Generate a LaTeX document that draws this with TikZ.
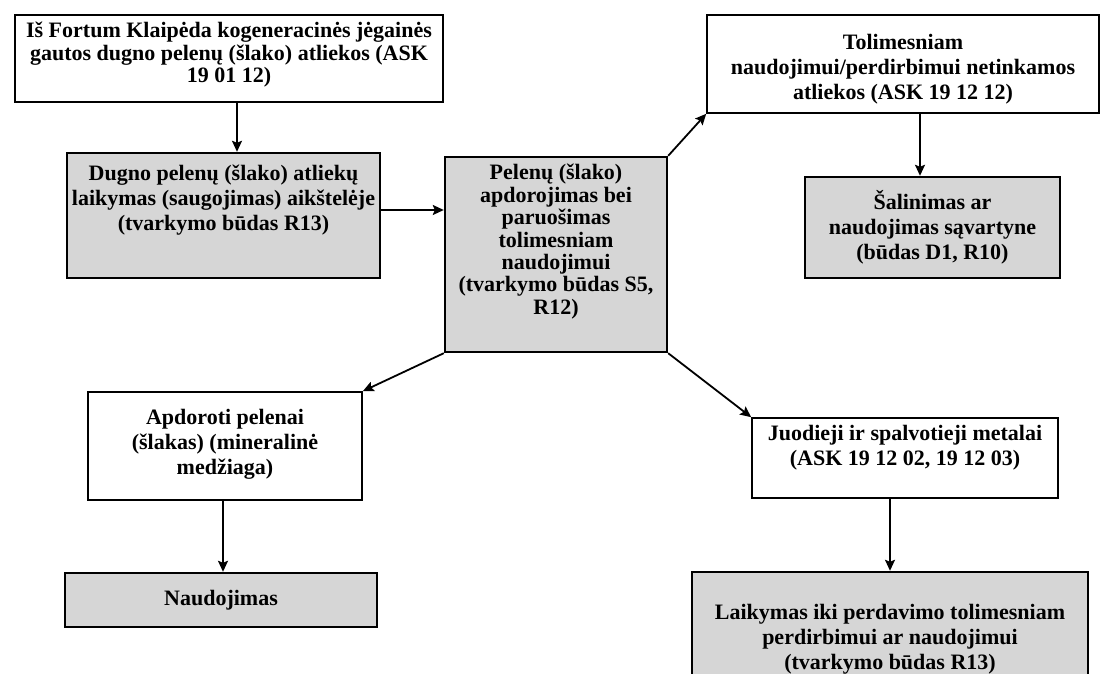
\documentclass[tikz,border=0pt]{standalone}
\usepackage{fontspec}
\setmainfont{Liberation Serif}
\usetikzlibrary{arrows.meta}
\begin{document}
\begin{tikzpicture}[x=1pt,y=-1pt,
  box/.style={draw=black, rectangle, inner sep=0pt, line width=1.6pt},
  shaded/.style={box, fill=black!16, line width=2.4pt},
  txt/.style={anchor=north, align=center, inner sep=0pt, font=\bfseries\fontsize{22}{25}\selectfont},
  tight/.style={font=\bfseries\fontsize{22}{22.4}\selectfont},
  arr/.style={line width=1.8pt, -{Stealth[length=11pt,width=10pt,inset=2pt]}}]
\useasboundingbox (0,0) rectangle (1101,674);
\fill[white] (0,0) rectangle (1101,674);

% boxes
\node[box,    minimum width=428pt, minimum height=87pt]  (b1) at (229,58.5) {};
\node[shaded, minimum width=313pt, minimum height=125pt] (b2) at (223.5,215.5) {};
\node[shaded, minimum width=222pt, minimum height=195pt] (b3) at (556,254.5) {};
\node[box,    minimum width=392pt, minimum height=98pt]  (b4) at (903,64) {};
\node[shaded, minimum width=255pt, minimum height=101pt] (b5) at (932.5,227.5) {};
\node[box,    minimum width=274pt, minimum height=108pt] (b6) at (225,446) {};
\node[shaded, minimum width=312pt, minimum height=54pt]  (b7) at (221,600) {};
\node[box,    minimum width=306pt, minimum height=80pt]  (b8) at (905,458) {};
\node[shaded, minimum width=396pt, minimum height=118pt] (b9) at (890,631) {};

% texts
\node[txt,tight] (t1) at (229,22) {\strut Iš Fortum Klaipėda kogeneracinės jėgainės\\gautos dugno pelenų (šlako) atliekos (ASK\\19 01 12)};
\node[txt] (t2) at (223.5,163) {\strut Dugno pelenų (šlako) atliekų\\laikymas (saugojimas) aikštelėje\\(tvarkymo būdas R13)};
\node[txt,tight] (t3) at (556,164) {\strut Pelenų (šlako)\\apdorojimas bei\\paruošimas\\tolimesniam\\naudojimui\\(tvarkymo būdas S5,\\R12)};
\node[txt] (t4) at (903,32) {\strut Tolimesniam\\naudojimui/perdirbimui netinkamos\\atliekos (ASK 19 12 12)};
\node[txt] (t5) at (932.5,190) {\strut Šalinimas ar\\naudojimas sąvartyne\\(būdas D1, R10)};
\node[txt] (t6) at (225,407) {\strut Apdoroti pelenai\\(šlakas) (mineralinė\\medžiaga)};
\node[txt] (t7) at (221,588) {\strut Naudojimas};
\node[txt] (t8) at (905,423) {\strut Juodieji ir spalvotieji metalai\\(ASK 19 12 02, 19 12 03)};
\node[txt] (t9) at (890,602) {\strut Laikymas iki perdavimo tolimesniam\\perdirbimui ar naudojimui\\(tvarkymo būdas R13)};

% connectors
\draw[arr] ([xshift=8pt]b1.south) -- ([xshift=8pt]b1.south |- b2.north);
\draw[arr] (b2.east |- 0,210) -- (b3.west |- 0,210);
\draw[arr] (b3.north east) -- (b4.south west);
\draw[arr] (b3.south west) -- (b6.north east);
\draw[arr] (b3.south east) -- (b8.north west);
\draw[arr] ([xshift=17pt]b4.south) -- ([xshift=17pt]b4.south |- b5.north);
\draw[arr] ([xshift=-2pt]b6.south) -- ([xshift=-2pt]b6.south |- b7.north);
\draw[arr] ([xshift=-15pt]b8.south) -- ([xshift=-15pt]b8.south |- b9.north);
\end{tikzpicture}
\end{document}
